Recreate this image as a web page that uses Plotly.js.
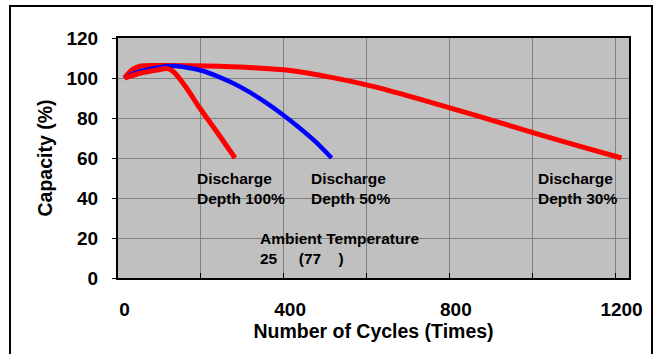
<!DOCTYPE html>
<html><head><meta charset="utf-8">
<script src="https://cdn.plot.ly/plotly-3.0.1.min.js"></script>
<style>
html,body{margin:0;padding:0;background:#fff;overflow:hidden;}
#chart{position:absolute;left:0;top:0;width:657px;height:354px;}
#frame{position:absolute;left:9px;top:5px;width:644px;height:400px;border:2px solid #000;box-sizing:border-box;pointer-events:none;z-index:5;}
</style></head><body>
<div id="chart"></div><div id="frame"></div>
<script>
// Discharge depth 30% (long red)
const cycles30 = [0, 20, 40, 100, 200, 300, 400, 500, 600, 700, 800, 900, 1000, 1100, 1200];
const capacity30 = [100, 104.3, 106, 106.2, 106, 105.3, 103.8, 100.3, 95.8, 90.2, 84.2, 78.1, 71.8, 65.8, 60];
// Discharge depth 50% (blue)
const cycles50 = [0, 30, 65, 110, 150, 190, 225, 260, 300, 340, 380, 420, 460, 500];
const capacity50 = [100, 102.8, 104.6, 106, 105.3, 103.5, 100.8, 97.6, 93.2, 87.9, 82, 75.5, 68.4, 60];
// Discharge depth 100% (short red)
const cycles100 = [0, 40, 80, 105, 120, 150, 180, 220, 267];
const capacity100 = [100, 102.5, 104, 104.7, 102.8, 95, 85.5, 74, 60];

const xTickVals = [0, 400, 800, 1200];
const xTickText = ['0', '400', '800', '1200'];

const labelTexts = ['Discharge<br>Depth 100%', 'Discharge<br>Depth 50%', 'Discharge<br>Depth 30%',
  'Ambient Temperature<br>25\u00A0\u00A0\u00A0\u00A0 (77\u00A0\u00A0\u00A0\u00A0)'];
const labelX = [177, 453, 1000, 330];
const labelY = [45, 45, 45, 15];

const FONT = 'Liberation Sans, Arial, Helvetica, sans-serif';

const traces = [
  {x: cycles30, y: capacity30, mode: 'lines', line: {color: '#FF0000', width: 5, shape: 'spline', smoothing: 0.8}},
  {x: cycles50, y: capacity50, mode: 'lines', xaxis: 'x2', yaxis: 'y', line: {color: '#0000FF', width: 4.5, shape: 'spline', smoothing: 0.8}},
  {x: cycles100, y: capacity100, mode: 'lines', xaxis: 'x2', yaxis: 'y', line: {color: '#FF0000', width: 5, shape: 'spline', smoothing: 0.6}}
];

const annotations = labelTexts.map((t, i) => ({
  text: t, x: labelX[i], y: labelY[i], xref: 'x', yref: 'y',
  xanchor: 'left', yanchor: 'middle', align: 'left', showarrow: false, xshift: -3,
  font: {family: FONT, size: 15.5, color: '#000', weight: 'bold'}
}));

const layout = {
  width: 657, height: 354,
  margin: {l: 118, r: 28, t: 38, b: 76, pad: 0},
  paper_bgcolor: '#FFFFFF', plot_bgcolor: '#C0C0C0',
  showlegend: false,
  font: {family: FONT, color: '#000'},
  xaxis: {
    range: [-15.5, 1218], tickmode: 'linear', tick0: -15.5, dtick: 200,
    showgrid: true, gridcolor: '#808080', gridwidth: 1,
    ticks: 'inside', ticklen: 5, tickcolor: '#000', tickwidth: 1,
    showticklabels: false, zeroline: false,
    showline: true, linecolor: '#000', linewidth: 2, mirror: true
  },
  xaxis2: {
    overlaying: 'x', anchor: 'y', side: 'bottom',
    range: [-15.5, 1218], tickmode: 'array', tickvals: xTickVals, ticktext: xTickText,
    showgrid: false, zeroline: false, ticks: '', showline: false,
    ticklabelstandoff: 18,
    tickfont: {family: FONT, size: 19, color: '#000', weight: 'bold'},
    title: {text: 'Number of Cycles (Times)', standoff: 5,
            font: {family: FONT, size: 19.5, color: '#000', weight: 'bold'}}
  },
  yaxis: {
    range: [0, 120], tickmode: 'linear', tick0: 0, dtick: 20,
    showgrid: true, gridcolor: '#808080', gridwidth: 1,
    ticks: 'outside', ticklen: 4, tickcolor: '#000', tickwidth: 1,
    zeroline: false, showline: true, linecolor: '#000', linewidth: 2, mirror: true,
    ticklabelstandoff: 10,
    tickfont: {family: FONT, size: 19, color: '#000', weight: 'bold'},
    title: {text: 'Capacity (%)', standoff: 9,
            font: {family: FONT, size: 19.5, color: '#000', weight: 'bold'}}
  },
  annotations: annotations
};

Plotly.newPlot('chart', traces, layout, {displayModeBar: false, staticPlot: true});
</script>
</body></html>
